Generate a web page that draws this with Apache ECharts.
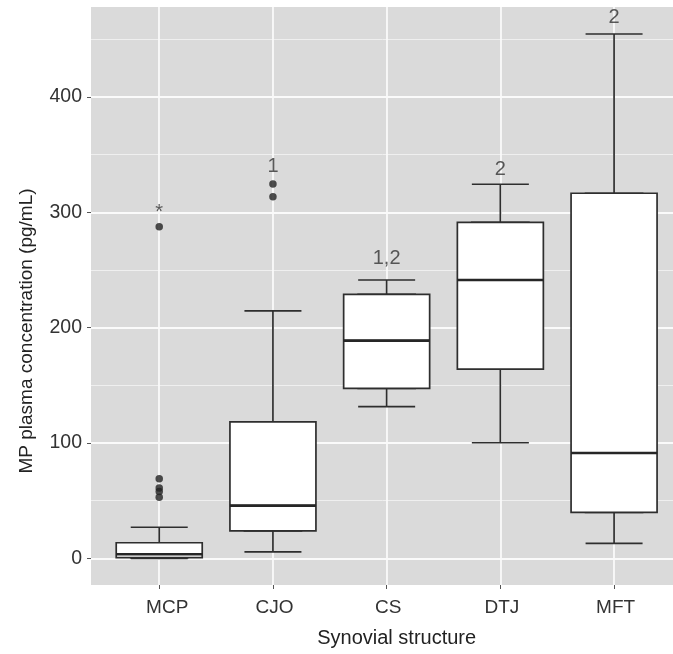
<!DOCTYPE html>
<html><head><meta charset="utf-8">
<script src="https://cdn.jsdelivr.net/npm/echarts@6/dist/echarts.min.js"></script>
<style>html,body{margin:0;padding:0;background:#fff}#c{width:673px;height:654px}</style>
</head><body><div id="c"></div>
<script>
const categories = ['MCP', 'CJO', 'CS', 'DTJ', 'MFT'];
const whiskerLow  = [0, 5.5, 131.5, 100.2, 13.0];
const q1          = [0.5, 23.7, 147.4, 164.1, 39.9];
const median      = [3.5, 45.6, 188.7, 241.3, 91.3];
const q3          = [13.5, 118.2, 228.9, 291.3, 316.5];
const whiskerHigh = [26.9, 214.6, 241.3, 324.3, 454.6];
const outlierCat = [0, 0, 0, 0, 0, 1, 1];
const outlierVal = [287.5, 69, 61, 58, 53, 324.5, 313.5];
const annotCat  = [0, 1, 2, 3, 4];
const annotVal  = [299.5, 339.5, 260, 336.7, 468.5];
const annotText = ['*', '1', '1,2', '2', '2'];
const yTicks = [0, 100, 200, 300, 400];
const yMinor = [50, 150, 250, 350, 450];

const catPos = categories.map((c, i) => i);
const X_MIN = -0.6, X_MAX = 4.6, Y_MIN = -23.15, Y_MAX = 478;
const ink = '#2e2e2e';
const FONT = 'Liberation Sans, Arial, sans-serif';

const hiddenX = { type: 'value', min: X_MIN, max: X_MAX, show: false };

const chart = echarts.init(document.getElementById('c'), null, { renderer: 'canvas' });
chart.setOption({
  animation: false,
  backgroundColor: '#fff',
  grid: { left: 91, right: -9.3, top: 7, bottom: 69, show: true, backgroundColor: '#dadada', borderWidth: 0, outerBoundsMode: 'none', containLabel: false },
  xAxis: [
    {
      type: 'value', min: X_MIN, max: X_MAX,
      axisLine: { show: false, onZero: false },
      axisTick: { show: true, customValues: catPos, length: 4, lineStyle: { color: '#555', width: 1 } },
      axisLabel: {
        customValues: catPos, margin: 13,
        formatter: v => { const i = Math.round(v); return i === 0 ? '{s|' + categories[i] + '}' : '{n|' + categories[i] + '}'; },
        rich: {
          s: { fontSize: 19, color: '#333', fontFamily: FONT, padding: [0, 0, 0, 16] },
          n: { fontSize: 19, color: '#333', fontFamily: FONT, padding: [0, 0, 0, 3] }
        }
      },
      splitLine: { show: true, lineStyle: { color: '#fafafa', width: 1.8 } },
      name: 'Synovial structure', nameLocation: 'middle', nameGap: 43,
      nameTextStyle: { fontSize: 20, color: '#222', fontFamily: FONT, padding: [0, 0, 0, 20] }
    },
    hiddenX, hiddenX
  ],
  yAxis: [
    {
      type: 'value', min: Y_MIN, max: Y_MAX,
      axisLine: { show: false, onZero: false },
      axisTick: { show: true, customValues: yTicks, length: 4, lineStyle: { color: '#555', width: 1 } },
      axisLabel: { customValues: yTicks, fontSize: 19.5, color: '#333', margin: 9, fontFamily: FONT },
      splitLine: { show: true, lineStyle: { color: '#fafafa', width: 1.8 } },
      name: 'MP plasma concentration (pg/mL)', nameLocation: 'middle', nameGap: 55,
      nameTextStyle: { fontSize: 19, color: '#222', padding: [0, 70, 0, 0], fontFamily: FONT }
    },
    {
      type: 'value', min: Y_MIN, max: Y_MAX,
      axisLine: { show: false, onZero: false },
      axisTick: { show: false, customValues: yMinor },
      axisLabel: { show: false },
      splitLine: { show: true, lineStyle: { color: '#f2f2f2', width: 0.9 } }
    }
  ],
  series: [
    {
      type: 'boxplot', xAxisIndex: 0, yAxisIndex: 0, z: 2, silent: true,
      boxWidth: [57, 57],
      itemStyle: { color: 'rgba(0,0,0,0)', borderColor: ink, borderWidth: 1.7 },
      emphasis: { disabled: true },
      data: catPos.map(i => [i, whiskerLow[i], q1[i], median[i], q3[i], whiskerHigh[i]])
    },
    {
      type: 'boxplot', xAxisIndex: 1, yAxisIndex: 0, z: 3, silent: true,
      boxWidth: [86, 86],
      itemStyle: { color: '#ffffff', borderColor: ink, borderWidth: 1.7 },
      emphasis: { disabled: true },
      data: catPos.map(i => [i, q1[i], q1[i], median[i], q3[i], q3[i]])
    },
    {
      type: 'boxplot', xAxisIndex: 2, yAxisIndex: 0, z: 4, silent: true,
      boxWidth: [86, 86],
      itemStyle: { color: 'rgba(0,0,0,0)', borderColor: '#262626', borderWidth: 2.7 },
      emphasis: { disabled: true },
      data: catPos.map(i => [i, median[i], median[i], median[i], median[i], median[i]])
    },
    {
      type: 'scatter', xAxisIndex: 0, yAxisIndex: 0, z: 5, silent: true,
      symbolSize: 7.5, itemStyle: { color: '#222' },
      data: outlierVal.map((v, k) => [outlierCat[k], v])
    },
    {
      type: 'scatter', xAxisIndex: 0, yAxisIndex: 0, z: 6, silent: true,
      symbolSize: 1, itemStyle: { color: 'rgba(0,0,0,0)' },
      label: { show: true, position: 'inside', formatter: '{b}', fontSize: 20, color: '#333', fontFamily: FONT },
      data: annotVal.map((v, k) => ({ name: annotText[k], value: [annotCat[k], v] }))
    }
  ]
});
</script></body></html>
